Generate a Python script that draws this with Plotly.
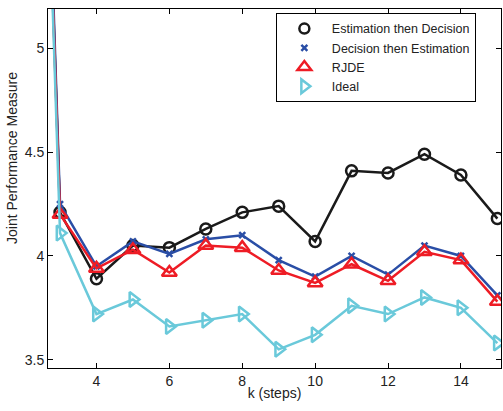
import plotly.graph_objects as go

k = [2, 3, 4, 5, 6, 7, 8, 9, 10, 11, 12, 13, 14, 15]
est_then_dec = [9.5, 4.21, 3.89, 4.05, 4.04, 4.13, 4.21, 4.24, 4.07, 4.41, 4.40, 4.49, 4.39, 4.18]
dec_then_est = [9.6, 4.25, 3.95, 4.07, 4.01, 4.08, 4.10, 3.98, 3.90, 4.00, 3.91, 4.05, 4.00, 3.81]
rjde = [9.4, 4.20, 3.94, 4.03, 3.92, 4.05, 4.04, 3.93, 3.87, 3.96, 3.88, 4.02, 3.98, 3.78]
ideal = [9.5, 4.11, 3.72, 3.79, 3.66, 3.69, 3.72, 3.55, 3.62, 3.76, 3.72, 3.80, 3.75, 3.58]

names = ["Estimation then Decision", "Decision then Estimation", "RJDE", "Ideal"]
colors = ["#1a1a1a", "#2a4ea6", "#ee1c25", "#6ac9da"]
symbols = ["circle-open", "x-thin-open", "triangle-up-open", "triangle-right-open"]
sizes = [11, 6, 13, 13]
series = [est_then_dec, dec_then_est, rjde, ideal]

fig = go.Figure()
for name, c, s, sz, y in zip(names, colors, symbols, sizes, series):
    fig.add_trace(go.Scatter(
        x=k, y=y, mode="lines+markers", name=name, showlegend=False,
        line=dict(color=c, width=2.5),
        marker=dict(symbol=s, size=sz, color=c, line=dict(color=c, width=2.5)),
    ))
for name, c, s, sz in zip(names, colors, symbols, sizes):
    fig.add_trace(go.Scatter(
        x=[None], y=[None], mode="markers", name=name,
        marker=dict(symbol=s, size=sz - 1 if sz > 8 else 6, color=c, line=dict(color=c, width=2.5)),
    ))

axis_common = dict(
    showline=True, linecolor="black", linewidth=1, mirror="ticks",
    ticks="inside", ticklen=5, tickcolor="black", showgrid=False, zeroline=False,
    tickfont=dict(size=14, color="#222"), automargin=False,
)
fig.update_xaxes(range=[2.67, 15.1], tickvals=[4, 6, 8, 10, 12, 14],
                 title=dict(text="k (steps)", font=dict(size=14, color="#222"), standoff=0),
                 **axis_common)
fig.update_yaxes(range=[3.46, 5.19], tickvals=[3.5, 4, 4.5, 5], **axis_common)
fig.add_annotation(text="Joint Performance Measure", textangle=-90,
                   xref="paper", yref="paper", x=-0.0795, y=0.585,
                   xanchor="center", yanchor="middle", showarrow=False,
                   font=dict(size=14, color="#222"))
fig.update_layout(
    width=503, height=411,
    margin=dict(l=48, r=2, t=9, b=43),
    plot_bgcolor="white", paper_bgcolor="white",
    font=dict(family="Liberation Sans, Arial, sans-serif", size=14, color="#222"),
    legend=dict(x=0.503, y=0.989, xanchor="left", yanchor="top",
                bordercolor="black", borderwidth=1, bgcolor="white",
                itemwidth=45, tracegroupgap=0, font=dict(size=12.5),
                itemsizing="trace"),
)
fig.write_html("out.html", config={"displayModeBar": False},
               post_script="document.body.style.margin='0';")
